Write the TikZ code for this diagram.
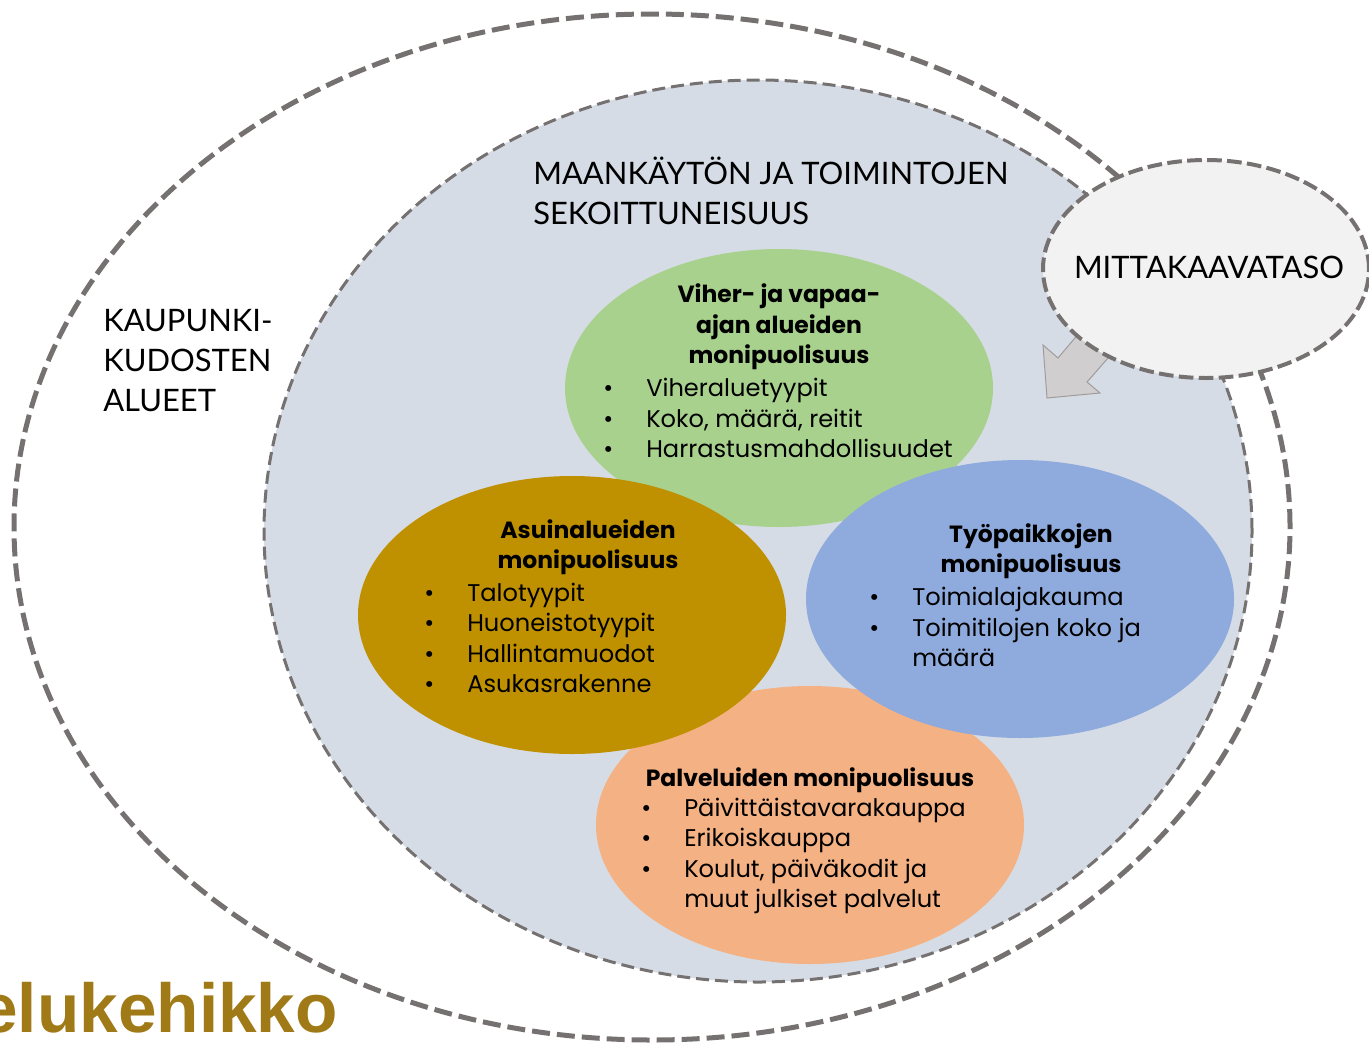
\documentclass[tikz,border=0pt]{standalone}
\usepackage{fontspec}
\setmainfont{Poppins}
\newfontfamily\capsfont{Lato}
\newfontfamily\titlefont{Liberation Sans}
\usetikzlibrary{shapes.geometric}

\definecolor{dashgray}{HTML}{767171}
\definecolor{areafill}{HTML}{D6DCE5}
\definecolor{scalefill}{HTML}{F2F2F2}
\definecolor{arrowfill}{HTML}{D0CECE}
\definecolor{arrowline}{HTML}{A09C9C}
\definecolor{vihergreen}{HTML}{A9D18E}
\definecolor{asuingold}{HTML}{BF9000}
\definecolor{tyoblue}{HTML}{8FAADC}
\definecolor{palveluorange}{HTML}{F4B183}
\definecolor{titlegold}{RGB}{160,122,22}

\newcommand{\bul}{\makebox[32.25pt][l]{\textbullet}}

\begin{document}
\begin{tikzpicture}[x=0.75pt,y=-0.75pt,
    ring/.style={ellipse,draw=dashgray,inner sep=0pt},
    bubble/.style={ellipse,draw=none,inner sep=0pt,
                   minimum width=321pt,minimum height=208.5pt},
    head/.style={font=\bfseries\fontsize{17.6}{22.9}\selectfont,align=center,inner sep=0pt},
    items/.style={font=\fontsize{18.1}{22.9}\selectfont,align=left,inner sep=0pt,anchor=west},
    caps/.style={font=\capsfont\fontsize{23.2}{30}\selectfont,align=left,inner sep=0pt,anchor=west}]
  \useasboundingbox (0,0) rectangle (1369,1042);

  % dashed areas
  \node[ring,line width=3.75pt,dash pattern=on 13.5pt off 5.25pt,
        minimum width=957pt,minimum height=769.5pt] (kudos) at (652,527) {};
  \node[ring,fill=areafill,line width=2.25pt,dash pattern=on 9.75pt off 4.5pt,
        minimum width=741pt,minimum height=676.5pt] (sekoitus) at (758,531) {};

  % block arrow from the scale level
  \draw[fill=arrowfill,draw=arrowline,line width=0.75pt]
    (1047,398) -- (1043,345) -- (1058,358) -- (1085,326) -- (1115,350)
    -- (1087,382) -- (1100,393) -- cycle;
  \node[ring,fill=scalefill,line width=3pt,dash pattern=on 11pt off 4pt,
        minimum width=244.5pt,minimum height=163.5pt] (taso) at (1206,269) {};
  \node[caps,anchor=center] (tasotext) at (1209,267) {MITTAKAAVATASO};

  % the four areas
  \node[bubble,fill=vihergreen]    (viher)   at (779,388) {};
  \node[bubble,fill=palveluorange] (palvelu) at (810,825) {};
  \node[bubble,fill=tyoblue]       (tyo)     at (1020,599) {};
  \node[bubble,fill=asuingold]     (asuin)   at (572,615) {};

  \node[caps] (kaupunki) at (103,361) {KAUPUNKI-\\KUDOSTEN\\ALUEET};
  \node[caps] (maankaytto) at (533,191) {MAANKÄYTÖN JA TOIMINTOJEN\\SEKOITTUNEISUUS};

  \node[head] (viherhead) at (779,327) {Viher- ja vapaa-\\ajan alueiden\\monipuolisuus};
  \node[items] (viherlist) at (603,418)
    {\bul Viheraluetyypit\\\bul Koko, määrä, reitit\\\bul Harrastusmahdollisuudet};

  \node[head] (asuinhead) at (588,547) {Asuinalueiden\\monipuolisuus};
  \node[items] (asuinlist) at (424,638)
    {\bul Talotyypit\\\bul Huoneistotyypit\\\bul Hallintamuodot\\\bul Asukasrakenne};

  \node[head] (tyohead) at (1031,551) {Työpaikkojen\\monipuolisuus};
  \node[items] (tyolist) at (869,627)
    {\bul Toimialajakauma\\\bul Toimitilojen koko ja\\\hspace*{32.25pt}määrä};

  \node[head] (palveluhead) at (810,780) {Palveluiden monipuolisuus};
  \node[items] (palvelulist) at (641,856)
    {\bul Päivittäistavarakauppa\\\bul Erikoiskauppa\\\bul Koulut, päiväkodit ja\\\hspace*{32.25pt}muut julkiset palvelut};

  \node[font=\titlefont\bfseries\fontsize{52}{58}\selectfont,text=titlegold,
        inner sep=0pt,anchor=base east] (kehikko) at (338,1032) {elukehikko};
\end{tikzpicture}
\end{document}
